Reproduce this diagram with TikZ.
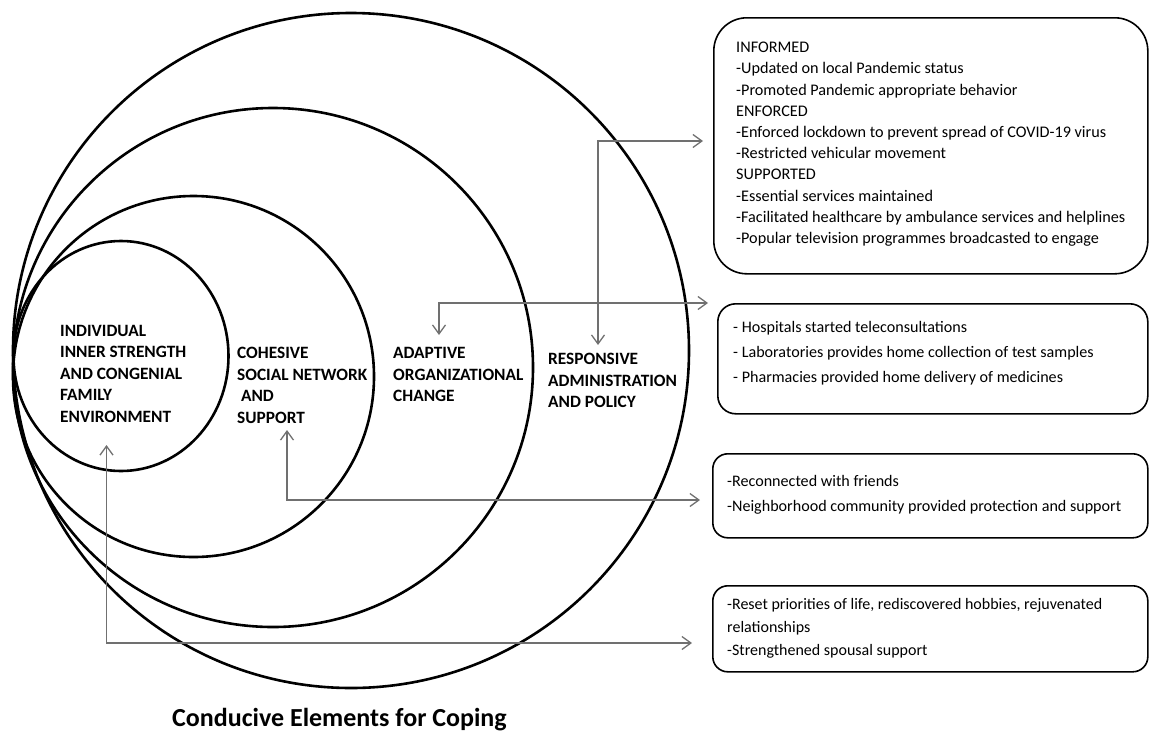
\documentclass[tikz,border=0pt]{standalone}
\usepackage{fontspec}
\setmainfont{Carlito}
\usetikzlibrary{arrows.meta}
\definecolor{linkgray}{RGB}{112,112,112}
\begin{document}
\begin{tikzpicture}[x=1pt,y=-1pt,
  ring/.style={draw=black, line width=2.6pt},
  box/.style={draw=black, line width=1.6pt, rounded corners=#1, anchor=north west, inner sep=0pt},
  link/.style={draw=linkgray, line width=1.3pt,
    {Straight Barb[length=9pt,width=13pt,line width=1.3pt]}-{Straight Barb[length=9pt,width=13pt,line width=1.3pt]}},
  lab/.style={font=\fontsize{17.3}{21.5}\selectfont\bfseries, align=left, anchor=north west, inner sep=0pt},
  txtA/.style={font=\fontsize{16.2}{21.2}\selectfont, align=left, anchor=north west, inner sep=0pt},
  txtB/.style={font=\fontsize{16.1}{25}\selectfont, align=left, anchor=north west, inner sep=0pt}
]
\useasboundingbox (0,0) rectangle (1150,734);
% nested circles
\draw[ring] (351,350.5) ellipse (338pt and 337.5pt);
\draw[ring] (273,367.5) ellipse (260pt and 259.5pt);
\draw[ring] (193.5,376.5) ellipse (180.5pt and 180.5pt);
\draw[ring] (121,356) ellipse (107.5pt and 115pt);
% circle labels
\node[lab] (ind) at (60,325) {INDIVIDUAL\\INNER STRENGTH\\AND CONGENIAL\\FAMILY\\ENVIRONMENT};
\node[lab] (coh) at (237,347) {COHESIVE\\SOCIAL NETWORK\\\ AND\\SUPPORT};
\node[lab] (ada) at (393,347.5) {ADAPTIVE\\ORGANIZATIONAL\\CHANGE};
\node[lab] (res) at (548,353) {RESPONSIVE\\ADMINISTRATION\\AND POLICY};
% boxes
\node[box=33pt, minimum width=434pt, minimum height=256pt] (b1) at (713,17) {};
\node[box=18pt, minimum width=430pt, minimum height=110pt] (b2) at (717,303) {};
\node[box=15pt, minimum width=435pt, minimum height=84pt] (b3) at (712,453) {};
\node[box=15pt, minimum width=435pt, minimum height=86pt] (b4) at (712,585) {};
\node[txtA] (t1) at (736,42) {INFORMED\\-Updated on local Pandemic status\\-Promoted Pandemic appropriate behavior\\ENFORCED\\-Enforced lockdown to prevent spread of COVID-19 virus\\-Restricted vehicular movement\\SUPPORTED\\-Essential services maintained\\-Facilitated healthcare by ambulance services and helplines\\-Popular television programmes broadcasted to engage};
\node[txtB] (t2) at (733,321) {- Hospitals started teleconsultations\\- Laboratories provides home collection of test samples\\- Pharmacies provided home delivery of medicines};
\node[txtB] (t3) at (727,475) {-Reconnected with friends\\-Neighborhood community provided protection and support};
\node[txtB, font=\fontsize{16}{23}\selectfont] (t4) at (727,598) {-Reset priorities of life, rediscovered hobbies, rejuvenated\\relationships\\-Strengthened spousal support};
% title
\node[font=\fontsize{26}{30}\selectfont\bfseries, anchor=north west, inner sep=0pt] (title) at (172,708) {Conducive Elements for Coping};
% connector end points
\coordinate (e1) at (703,141);
\coordinate (s1) at (598,345);
\coordinate (e2) at (708,303);
\coordinate (s2) at (439,335);
\coordinate (e3) at (700,500);
\coordinate (s3) at (287,430);
\coordinate (e4) at (692,643);
\coordinate (s4) at (106.5,445);
\draw[link] (e1) -| (s1);
\draw[link] (e2) -| (s2);
\draw[link] (s3) |- (e3);
\draw[link] (s4) |- (e4);
\end{tikzpicture}
\end{document}
